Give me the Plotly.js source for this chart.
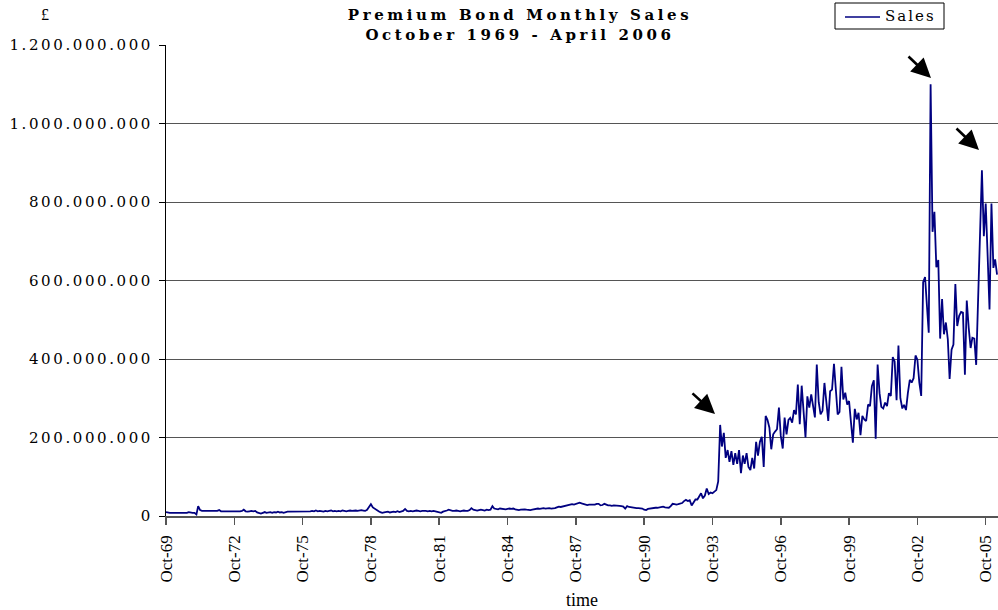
<!DOCTYPE html>
<html>
<head>
<meta charset="utf-8">
<script src="https://cdn.plot.ly/plotly-3.0.1.min.js"></script>
<style>
  html, body { margin: 0; padding: 0; background: #fff; }
  #chart { width: 998px; height: 610px; }
  .ytick text { letter-spacing: 2.6px; }
  .gtitle { letter-spacing: 3.6px; }
  .legendtext { letter-spacing: 2px; }
  .annotation-text.wide-text { letter-spacing: 2px; }
</style>
</head>
<body>
<div id="chart"></div>
<script>
// Monthly sales in millions of pounds, Oct 1969 .. Jan 1994 (index 0..291)
const salesEarlyMillions = [
  10,8,8,8,8,8,8,8,8,8,8,8,10,8,8,8,
  4,25,15,
  13,13,13,12,13,13,13,13,13,
  15,
  12,12,12,11,12,12,12,11,12,12,
  12,13,16,12,
  11,12,13,12,13,
  9,8,6,8,
  10,8,9,10,8,10,9,11,9,10,8,10,
  11,11,11,11,11,11,11,11,11,11,
  12,11,12,13,12,14,12,13,12,11,13,12,13,14,12,13,12,13,12,14,13,12,13,14,13,
  14,14,13,14,15,14,13,16,
  22,30,
  22,18,14,12,10,
  8,
  9,10,11,9,10,11,10,12,10,11,13,
  18,13,
  12,13,12,13,14,13,12,13,14,13,12,13,12,13,12,11,10,
  8,
  11,12,14,16,
  14,13,13,14,13,12,13,14,13,13,15,
  20,
  16,15,14,15,16,15,14,16,15,16,
  25,19,
  18,17,19,18,17,17,18,19,18,19,17,16,15,16,17,17,16,15,15,16,17,18,19,18,19,20,19,20,20,19,19,20,22,24,23,24,25,25,26,28,
  30,29,31,33,34,32,
  31,29,28,29,29,28,29,31,31,27,28,31,28,27,27,26,27,27,26,26,25,24,
  19,
  25,23,22,21,21,20,20,19,19,16,15,18,19,20,19,21,21,22,23,24,22,21,21,
  25,31,30,29,30,32,33,38,41,38,40,27,36,42,42,
  50,58,45,52,70,56,60,58,62,66,88
];
// Monthly sales in millions of pounds, Feb 1994 .. Apr 2006 (index 292..438)
const salesLateMillions = [
  232,
  177,212,148,168,138,165,130,160,133,168,109,154,133,160,125,117,148,121,189,154,189,202,125,255,245,
  225,170,208,215,221,276,204,172,251,208,245,250,238,270,259,335,234,332,263,200,
  305,276,310,280,251,386,290,259,268,339,297,242,318,322,388,331,259,265,380,297,
  314,284,293,238,187,273,246,263,206,255,246,242,284,280,331,346,197,386,
  313,278,274,289,280,313,306,405,394,295,434,300,274,283,270,313,347,340,351,409,398,340,306,
  596,609,540,467,
  1100,
  724,775,634,652,452,553,463,493,450,349,424,437,591,484,510,520,518,360,549,480,
  428,454,452,385,561,664,881,713,796,662,526,796,632,654,615
];
const startYear = 1969, startMonth = 10;
const seriesName = 'Sales';

const xTickVals = ['1969-10-01','1972-10-01','1975-10-01','1978-10-01','1981-10-01','1984-10-01',
  '1987-10-01','1990-10-01','1993-10-01','1996-10-01','1999-10-01','2002-10-01','2005-10-01'];
const xTickText = ['Oct-69','Oct-72','Oct-75','Oct-78','Oct-81','Oct-84','Oct-87','Oct-90',
  'Oct-93','Oct-96','Oct-99','Oct-02','Oct-05'];
const yTickVals = [0, 200000000, 400000000, 600000000, 800000000, 1000000000, 1200000000];
const yTickText = ['0','200.000.000','400.000.000','600.000.000','800.000.000','1.000.000.000','1.200.000.000'];

const salesMillions = salesEarlyMillions.concat(salesLateMillions);
const sales = salesMillions.map(v => v * 1e6);
const months = salesMillions.map((_, i) => {
  const m0 = startMonth - 1 + i;
  const y = startYear + Math.floor(m0 / 12);
  const m = (m0 % 12) + 1;
  return y + '-' + (m < 10 ? '0' + m : m) + '-01';
});

const L = 166, R = 0, T = 45, B = 94, W = 998, H = 610;
const pw = W - L - R, ph = H - T - B;
const px = x => (x - L) / pw;
const py = y => (H - B - y) / ph;

const serif = 'Liberation Serif, Times New Roman, serif';
const wide = 'DejaVu Serif, serif';
const lineColor = '#000080';

const trace = {
  type: 'scatter', mode: 'lines', name: seriesName,
  x: months, y: sales,
  line: { color: lineColor, width: 1.8 },
  hoverinfo: 'skip', showlegend: false
};

function arrow(tipX, tipY, tailX, tailY) {
  return {
    xref: 'paper', yref: 'paper', x: px(tipX), y: py(tipY),
    ax: tailX - tipX, ay: tailY - tipY,
    text: '', showarrow: true, arrowhead: 2, arrowsize: 1.5, arrowwidth: 2.6,
    arrowcolor: '#000', standoff: 0
  };
}

const layout = {
  width: W, height: H,
  margin: { l: L, r: R, t: T, b: B, pad: 0 },
  paper_bgcolor: '#fff', plot_bgcolor: '#fff',
  title: {
    text: '<b>Premium Bond Monthly Sales<br>October 1969 - April 2006</b>',
    font: { family: wide, size: 15, color: '#000' },
    xref: 'container', yref: 'container', x: 520 / W, xanchor: 'center',
    y: 1 - 20 / H, yanchor: 'top'
  },
  showlegend: false,
  xaxis: {
    type: 'date', range: ['1969-10-01', '2006-04-16'],
    tickmode: 'array', tickvals: xTickVals, ticktext: xTickText,
    tickangle: -90, ticks: 'outside', ticklen: 7, tickwidth: 1.5, tickcolor: '#555',
    ticklabelstandoff: 4,
    showline: true, linecolor: '#555', linewidth: 1.5,
    showgrid: false, zeroline: false,
    tickfont: { family: serif, size: 17, color: '#000' }
  },
  yaxis: {
    range: [0, 1200000000],
    tickmode: 'array', tickvals: yTickVals, ticktext: yTickText,
    ticks: 'outside', ticklen: 6, tickcolor: '#000',
    ticklabelstandoff: 3,
    showline: true, linecolor: '#000', linewidth: 1,
    showgrid: true, gridcolor: '#555', gridwidth: 1, zeroline: false,
    tickfont: { family: wide, size: 15, color: '#000' }
  },
  shapes: [
    // legend box and sample line
    { type: 'rect', xref: 'paper', yref: 'paper', x0: px(835), x1: px(944), y0: py(29), y1: py(3),
      line: { color: '#000', width: 1 }, fillcolor: '#fff', layer: 'above' },
    { type: 'line', xref: 'paper', yref: 'paper', x0: px(845), x1: px(880), y0: py(17), y1: py(17),
      line: { color: lineColor, width: 1.6 }, layer: 'above' }
  ],
  annotations: [
    { xref: 'paper', yref: 'paper', x: px(888), y: py(16), xanchor: 'left', yanchor: 'middle',
      text: '<span class="lg">' + seriesName + '</span>', showarrow: false,
      font: { family: wide, size: 15, color: '#000' } },
    { xref: 'paper', yref: 'paper', x: px(45), y: py(14), xanchor: 'center', yanchor: 'middle',
      text: '£', showarrow: false, font: { family: serif, size: 16, color: '#000' } },
    { xref: 'paper', yref: 'paper', x: px(582), y: py(600), xanchor: 'center', yanchor: 'middle',
      text: 'time', showarrow: false, font: { family: serif, size: 18, color: '#000' } },
    arrow(715, 414, 691, 392),
    arrow(931, 78, 907, 55),
    arrow(979, 150, 955, 127)
  ]
};

Plotly.newPlot('chart', [trace], layout, { displayModeBar: false, staticPlot: true }).then(() => {
  document.querySelectorAll('.annotation-text').forEach(t => {
    if (t.textContent === seriesName) t.style.letterSpacing = '2px';
  });
});
</script>
</body>
</html>
